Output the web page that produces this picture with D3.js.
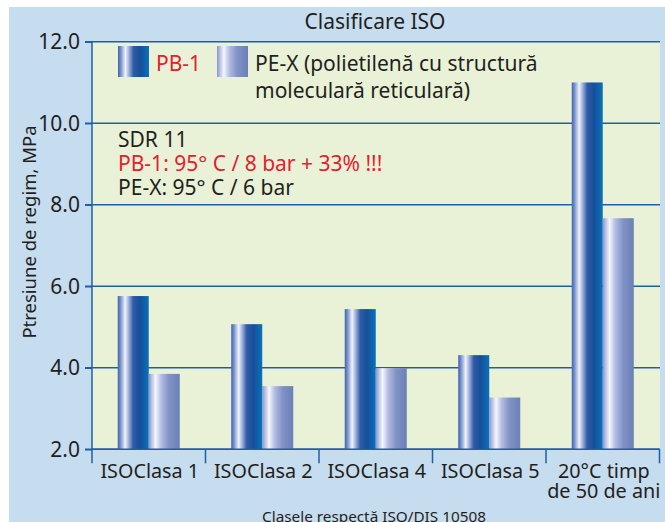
<!DOCTYPE html>
<html>
<head>
<meta charset="utf-8">
<script src="https://cdn.jsdelivr.net/npm/d3@7"></script>
<style>
  html, body { margin: 0; padding: 0; background: #fff; }
  svg { display: block; font-family: "Noto Sans", sans-serif; }
  text { fill: #231f20; }
</style>
</head>
<body>
<div id="chart-area"><svg></svg></div>
<script>
const CHART_SIZE = { width: 665, height: 522 };
const PLOT = { left: 92, right: 659.5, top: 41.7, bottom: 449.3 };

const categories = ["ISOClasa 1", "ISOClasa 2", "ISOClasa 4", "ISOClasa 5", "20°C timp\nde 50 de ani"];
const seriesNames = ["PB-1", "PE-X"];
const pb1Values = [5.76, 5.07, 5.44, 4.31, 11.0];
const pexValues = [3.85, 3.55, 3.99, 3.27, 7.67];
const yTicks = [2, 4, 6, 8, 10, 12];
const noteLines = ["SDR 11", "PB-1: 95° C / 8 bar + 33% !!!", "PE-X: 95° C / 6 bar"];

const BLUE = "#1f5fa8";
const RED = "#e3202e";

const rows = categories.map((c, i) => ({ name: c, "PB-1": pb1Values[i], "PE-X": pexValues[i] }));

const svg = d3.select("#chart-area svg")
  .attr("width", CHART_SIZE.width)
  .attr("height", CHART_SIZE.height);

// gradients for the cylinder look
const defs = svg.append("defs");
const gradients = {
  "PB-1": [[0, "#3b63ae"], [0.1, "#7f98cf"], [0.24, "#f2f3fb"], [0.38, "#8aa0d2"], [0.5, "#2f5ba7"], [0.72, "#164f99"], [1, "#0872bb"]],
  "PE-X": [[0, "#8596cd"], [0.1, "#b9c3e6"], [0.22, "#f6f6fd"], [0.4, "#b3bde2"], [0.65, "#8292c6"], [1, "#6a80b6"]]
};
const gradId = { "PB-1": "grad-pb", "PE-X": "grad-pe" };
seriesNames.forEach(s => {
  defs.append("linearGradient")
    .attr("id", gradId[s])
    .attr("x1", 0).attr("x2", 1).attr("y1", 0).attr("y2", 0)
    .selectAll("stop")
    .data(gradients[s])
    .enter()
    .append("stop")
    .attr("offset", d => d[0])
    .attr("stop-color", d => d[1]);
});

// backgrounds
svg.append("rect")
  .attr("x", 9).attr("y", 7)
  .attr("width", CHART_SIZE.width - 9).attr("height", CHART_SIZE.height - 7)
  .attr("fill", "#c6dcef");

svg.append("rect")
  .attr("x", PLOT.left).attr("y", PLOT.top)
  .attr("width", 660 - PLOT.left).attr("height", PLOT.bottom - PLOT.top)
  .attr("fill", "#e9f2d7");

const y = d3.scaleLinear().domain([2, 12]).range([PLOT.bottom, PLOT.top]);
const x0 = d3.scaleBand().domain(categories).range([PLOT.left, PLOT.right]).padding(0);
const x1 = d3.scaleBand().domain(seriesNames).range([0, x0.bandwidth()]).paddingInner(0).paddingOuter(0.83);

// grid lines
svg.append("g")
  .selectAll("line")
  .data(yTicks)
  .enter()
  .append("line")
  .attr("x1", 85).attr("x2", 660)
  .attr("y1", d => y(d)).attr("y2", d => y(d))
  .attr("stroke", BLUE)
  .attr("stroke-width", 1.5);

// bars
const groups = svg.append("g")
  .selectAll("g")
  .data(rows)
  .enter()
  .append("g")
  .attr("transform", d => `translate(${x0(d.name)},0)`);

groups.selectAll("rect")
  .data(d => seriesNames.map(s => ({ key: s, value: d[s] })))
  .enter()
  .append("rect")
  .attr("x", d => x1(d.key))
  .attr("width", x1.bandwidth())
  .attr("y", d => y(d.value))
  .attr("height", d => y(2) - y(d.value))
  .attr("fill", d => `url(#${gradId[d.key]})`);

// y axis
const yAxis = d3.axisLeft(y).tickValues(yTicks).tickFormat(d3.format(".1f")).tickSize(7).tickPadding(5);
const yAxisG = svg.append("g")
  .attr("transform", `translate(${PLOT.left},0)`)
  .call(yAxis);
yAxisG.select(".domain").attr("stroke", BLUE).attr("stroke-width", 1.5).attr("d", `M0,${PLOT.top}V${PLOT.bottom}`);
yAxisG.selectAll(".tick line").attr("stroke", BLUE).attr("stroke-width", 1.5);
yAxisG.selectAll(".tick text")
  .attr("font-size", 21)
  .attr("font-family", "Noto Sans")
  .attr("dy", "0.34em")
  .attr("fill", "#231f20");

// x axis: ticks at band edges
const edges = categories.map(c => x0(c)).concat([PLOT.right]);
svg.append("g")
  .selectAll("line")
  .data(edges)
  .enter()
  .append("line")
  .attr("x1", d => d).attr("x2", d => d)
  .attr("y1", PLOT.bottom).attr("y2", PLOT.bottom + 14)
  .attr("stroke", BLUE)
  .attr("stroke-width", 1.5);

svg.append("line")
  .attr("x1", PLOT.left).attr("x2", PLOT.right)
  .attr("y1", PLOT.bottom).attr("y2", PLOT.bottom)
  .attr("stroke", BLUE)
  .attr("stroke-width", 1.5);

const xLabels = svg.append("g")
  .selectAll("text")
  .data(categories)
  .enter()
  .append("text")
  .attr("text-anchor", "middle")
  .attr("font-size", 19.8)
  .attr("transform", d => `translate(${x0(d) + x0.bandwidth() / 2 + 1},478)`);

xLabels.selectAll("tspan")
  .data(d => d.split("\n"))
  .enter()
  .append("tspan")
  .attr("x", 0)
  .attr("dy", (d, i) => (i === 0 ? 0 : 20))
  .text(d => d);

// axis titles
svg.append("text")
  .attr("text-anchor", "middle")
  .attr("font-size", 18.5)
  .attr("transform", "translate(36,232) rotate(-90)")
  .text("Ptresiune de regim, MPa");

svg.append("text")
  .attr("x", 375).attr("y", 29)
  .attr("text-anchor", "middle")
  .attr("font-size", 21)
  .text("Clasificare ISO");

svg.append("text")
  .attr("x", 374).attr("y", 522)
  .attr("text-anchor", "middle")
  .attr("font-size", 15.3)
  .text("Clasele respectă ISO/DIS 10508");

// legend
const legendItems = [
  { key: "PB-1", x: 118, lines: ["PB-1"], color: RED },
  { key: "PE-X", x: 217, lines: ["PE-X (polietilenă cu structură", "moleculară reticulară)"], color: "#231f20" }
];
const legend = svg.append("g")
  .selectAll("g")
  .data(legendItems)
  .enter()
  .append("g")
  .attr("transform", d => `translate(${d.x},46)`);

legend.append("rect")
  .attr("width", 31).attr("height", 31)
  .attr("fill", d => `url(#${gradId[d.key]})`);

legend.append("text")
  .attr("x", 38).attr("y", 25)
  .attr("font-size", 21)
  .style("fill", d => d.color)
  .selectAll("tspan")
  .data(d => d.lines)
  .enter()
  .append("tspan")
  .attr("x", 38)
  .attr("dy", (d, i) => (i === 0 ? 0 : 27))
  .text(d => d);

// note
svg.append("g")
  .selectAll("text")
  .data(noteLines)
  .enter()
  .append("text")
  .attr("x", 118)
  .attr("y", (d, i) => 147 + i * 24)
  .attr("font-size", 21)
  .style("fill", (d, i) => (i === 1 ? RED : "#231f20"))
  .text(d => d);
</script>
</body>
</html>
